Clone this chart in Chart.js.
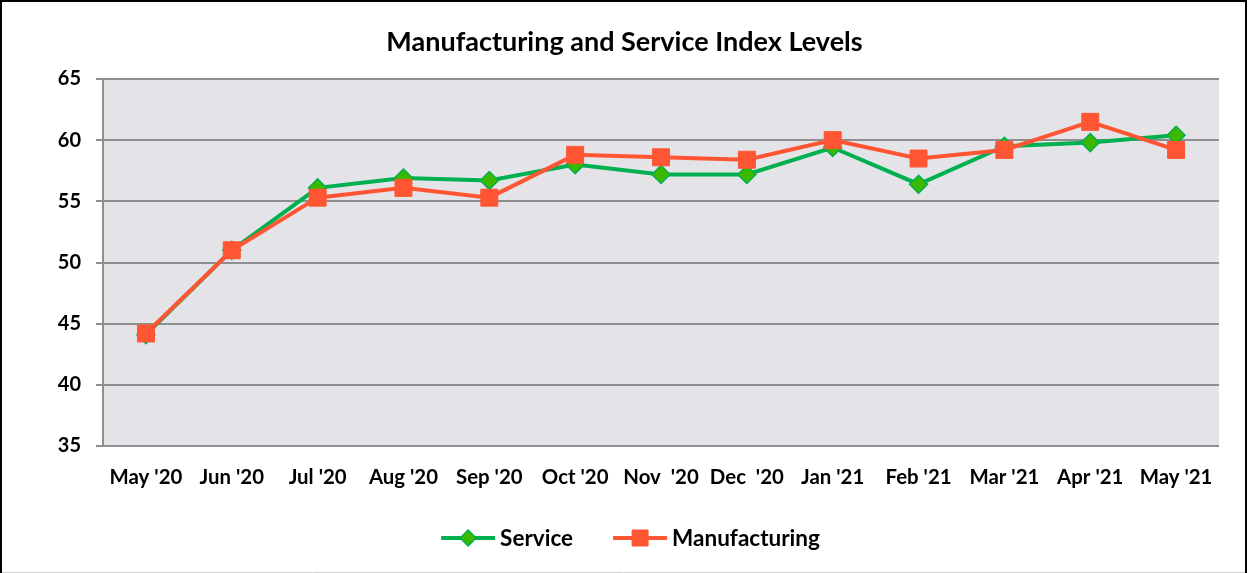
<!DOCTYPE html>
<html>
<head>
<meta charset="utf-8">
<script src="https://cdn.jsdelivr.net/npm/chart.js@4/dist/chart.umd.min.js"></script>
<style>
html,body{margin:0;padding:0;background:#fff;}
#wrap{width:1249px;height:573px;position:relative;}
</style>
</head>
<body>
<div id="wrap"><canvas id="c" width="1249" height="573"></canvas></div>
<script>
const categories = ["May '20","Jun '20","Jul '20","Aug '20","Sep '20","Oct '20","Nov  '20","Dec  '20","Jan '21","Feb '21","Mar '21","Apr '21","May '21"];
const serviceValues = [44.1, 51.0, 56.1, 56.9, 56.7, 58.0, 57.2, 57.2, 59.4, 56.4, 59.5, 59.8, 60.4];
const manufacturingValues = [44.2, 51.0, 55.3, 56.1, 55.3, 58.8, 58.6, 58.4, 60.0, 58.5, 59.2, 61.5, 59.2];
const yTicks = [35, 40, 45, 50, 55, 60, 65];

const FONT = "Lato, 'Open Sans', sans-serif";
const GREEN = '#00b050';
const GREEN_FILL = '#3cb800';
const ORANGE = '#ff5533';
const GRID = '#8f8f8f';

const bgPlugin = {
  id: 'bgPlugin',
  beforeDraw(chart) {
    const {ctx, chartArea: a} = chart;
    ctx.save();
    ctx.fillStyle = '#e4e3e8';
    ctx.fillRect(a.left, a.top, a.right - a.left, a.bottom - a.top);
    ctx.restore();
  },
  afterDraw(chart) {
    const ctx = chart.ctx;
    ctx.save();
    // outer border (bottom edge is cut off in the reference)
    ctx.strokeStyle = '#000';
    ctx.lineWidth = 2;
    ctx.beginPath();
    ctx.moveTo(1, chart.height);
    ctx.lineTo(1, 1);
    ctx.lineTo(chart.width - 3, 1);
    ctx.lineTo(chart.width - 3, chart.height);
    ctx.stroke();
    ctx.strokeStyle = '#d0d0d0';
    ctx.lineWidth = 1;
    ctx.beginPath();
    ctx.moveTo(2, chart.height - 0.5);
    ctx.lineTo(chart.width - 4, chart.height - 0.5);
    ctx.stroke();
    // custom legend
    const items = chart.data.datasets.slice().sort((a,b)=>a.legendIndex-b.legendIndex);
    ctx.font = "bold 22.5px " + FONT;
    const sampleW = 54, gap = 5, spacing = 40;
    const widths = items.map(d => sampleW + gap + ctx.measureText(d.label).width);
    const total = widths.reduce((s,w)=>s+w,0) + spacing*(items.length-1);
    let x = chart.width/2 + 6 - total/2;
    const y = 538;
    items.forEach((d, i) => {
      ctx.strokeStyle = d.borderColor;
      ctx.lineWidth = 4;
      ctx.beginPath();
      ctx.moveTo(x, y); ctx.lineTo(x + sampleW, y);
      ctx.stroke();
      const cx = x + sampleW/2;
      ctx.fillStyle = d.pointBackgroundColor;
      ctx.strokeStyle = d.pointBorderColor;
      ctx.lineWidth = d.pointBorderWidth;
      ctx.beginPath();
      if (d.pointStyle === 'rectRot') {
        const r = 8;
        ctx.moveTo(cx, y - r); ctx.lineTo(cx + r, y); ctx.lineTo(cx, y + r); ctx.lineTo(cx - r, y); ctx.closePath();
      } else {
        const s = 8;
        ctx.rect(cx - s, y - s, 2*s, 2*s);
      }
      ctx.fill(); ctx.stroke();
      ctx.fillStyle = '#000';
      ctx.textAlign = 'left';
      ctx.textBaseline = 'middle';
      ctx.fillText(d.label, x + sampleW + gap, y + 1);
      x += widths[i] + spacing;
    });
    ctx.restore();
  }
};

new Chart(document.getElementById('c'), {
  type: 'line',
  data: {
    labels: categories,
    datasets: [
      {
        label: 'Manufacturing',
        legendIndex: 1,
        data: manufacturingValues,
        borderColor: ORANGE,
        backgroundColor: ORANGE,
        borderWidth: 4,
        pointStyle: 'rect',
        pointRadius: 12,
        pointHoverRadius: 12,
        pointBackgroundColor: ORANGE,
        pointBorderColor: ORANGE,
        pointBorderWidth: 1,
        tension: 0,
        order: 0
      },
      {
        label: 'Service',
        legendIndex: 0,
        data: serviceValues,
        borderColor: GREEN,
        backgroundColor: GREEN_FILL,
        borderWidth: 4,
        pointStyle: 'rectRot',
        pointRadius: 9,
        pointHoverRadius: 9,
        pointBackgroundColor: GREEN_FILL,
        pointBorderColor: GREEN,
        pointBorderWidth: 1.5,
        tension: 0,
        order: 1
      }
    ]
  },
  options: {
    responsive: false,
    animation: false,
    layout: { padding: { left: 0, right: 0, top: 0, bottom: 77 } },
    plugins: {
      legend: { display: false },
      tooltip: { enabled: false },
      title: {
        display: true,
        text: 'Manufacturing and Service Index Levels',
        color: '#000',
        font: { family: FONT, size: 27, weight: 'bold', lineHeight: 1.2 },
        padding: { top: 26, bottom: 20.6 }
      }
    },
    scales: {
      x: {
        offset: true,
        grid: { display: false, drawTicks: false },
        border: { display: false },
        ticks: {
          color: '#000',
          font: { family: FONT, size: 20.4, weight: 'bold' },
          padding: 19,
          maxRotation: 0,
          autoSkip: false
        },
        afterFit(scale) { scale.height = 50; }
      },
      y: {
        min: 35,
        max: 65,
        afterBuildTicks(scale) { scale.ticks = yTicks.map(v => ({value: v})); },
        grid: { color: GRID, lineWidth: 2, tickLength: 7, drawTicks: true },
        border: { display: true, color: GRID, width: 2 },
        ticks: {
          color: '#000',
          font: { family: FONT, size: 20, weight: 'bold' },
          padding: 15
        },
        afterFit(scale) { scale.width = 103; }
      },
      yRightSpace: {
        position: 'right',
        min: 0,
        max: 1,
        grid: { display: false, drawTicks: false },
        border: { display: false },
        ticks: { display: false },
        afterFit(scale) { scale.width = 30; }
      }
    }
  },
  plugins: [bgPlugin]
});
</script>
</body>
</html>
